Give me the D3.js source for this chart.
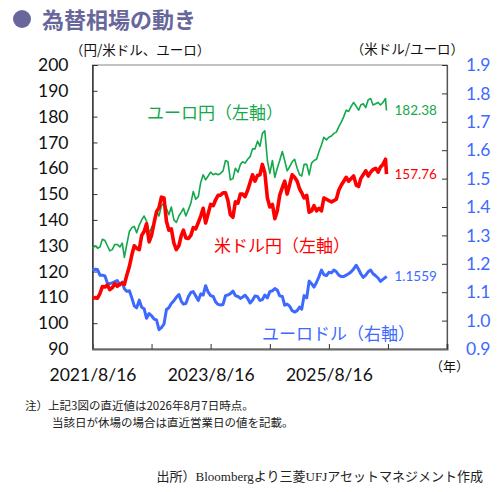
<!DOCTYPE html>
<html>
<head>
<meta charset="utf-8">
<script src="https://cdn.jsdelivr.net/npm/d3@7"></script>
<style>
  body { margin: 0; background: #fff; }
  svg { display: block; }
  .jp { font-family: "Noto Sans CJK JP", "Noto Sans", sans-serif; }
  .num { font-family: Lato, "Open Sans", sans-serif; }
</style>
</head>
<body>
<svg id="chart" width="501" height="492"></svg>
<script>
// semi-monthly readings, 2021/8/16 .. 2026/8/1, plus the last value on 2026/8/7
const usd_jpy = [
  109.6, 109.9, 109.7, 111.5, 114.2, 114.0, 114.8, 113.0, 113.7, 115.3, 114.3, 115.1,
  115.5, 115.0, 118.6, 122.0, 126.4, 130.0, 129.0, 128.5, 134.0, 135.5, 138.5, 131.5,
  134.0, 139.0, 143.2, 144.7, 148.8, 148.5, 139.5, 136.0, 136.5, 131.0, 128.5, 130.0,
  134.0, 136.0, 133.0, 132.8, 134.0, 137.0, 136.5, 139.0, 141.5, 144.5, 138.8, 142.5,
  146.0, 145.5, 147.8, 149.5, 149.6, 150.5, 150.5, 147.5, 142.0, 141.0, 147.0, 146.5,
  150.0, 150.0, 149.0, 151.5, 154.5, 157.5, 155.0, 157.2, 157.5, 161.5, 158.3, 148.5,
  145.0, 146.0, 140.5, 143.5, 149.5, 152.5, 155.0, 150.0, 153.5, 157.5, 156.5, 155.0,
  152.0, 150.5, 148.5, 149.5, 143.0, 143.5, 145.5, 143.5, 144.5, 143.5, 148.5, 148.0,
  147.5, 147.0, 147.5, 148.0, 151.5, 153.5, 155.0, 156.5, 155.0, 156.0, 157.0, 153.5,
  153.0, 156.0, 157.5, 159.0, 157.0, 158.5, 159.5, 160.0, 158.5, 160.5, 161.5, 163.5,
  157.76
];
const eur_jpy = [
  129.0, 130.0, 129.0, 129.5, 132.5, 132.0, 130.0, 128.0, 128.5, 130.5, 130.5, 129.5,
  131.0, 125.5, 130.5, 135.5, 137.0, 137.5, 135.0, 138.0, 140.0, 141.5, 139.5, 135.0,
  137.0, 139.0, 143.5, 141.5, 145.5, 146.5, 144.5, 142.0, 145.0, 140.0, 139.0, 141.5,
  143.0, 144.5, 141.5, 144.0, 146.5, 151.0, 148.0, 149.0, 154.5, 157.5, 155.5, 157.0,
  158.5, 157.5, 158.0, 157.5, 158.0, 159.0, 163.0, 162.5, 155.5, 156.0, 160.0, 158.5,
  161.5, 162.5, 162.0, 163.5, 164.5, 167.5, 167.5, 170.5, 168.5, 173.5, 174.5, 163.0,
  158.0, 163.0, 156.5, 160.0, 163.0, 166.5, 163.0, 159.0, 160.5, 162.5, 163.5, 160.0,
  157.5, 157.0, 161.5, 161.5, 157.5, 162.0, 163.0, 163.5, 166.5, 169.0, 172.0, 171.0,
  172.0, 172.5, 173.5, 174.0, 176.0, 178.0, 180.0, 182.5, 182.0, 184.0, 185.5, 184.0,
  182.5, 184.5, 185.0, 183.5, 186.5, 187.0, 184.5, 185.0, 185.5, 184.5, 185.5, 187.0,
  182.38
];
const eur_usd = [
  1.177, 1.181, 1.180, 1.160, 1.160, 1.157, 1.132, 1.130, 1.133, 1.137, 1.141, 1.125,
  1.136, 1.112, 1.103, 1.105, 1.080, 1.052, 1.045, 1.072, 1.047, 1.042, 1.008, 1.025,
  1.017, 1.005, 1.002, 0.968, 0.975, 0.988, 1.039, 1.045, 1.060, 1.070, 1.082, 1.092,
  1.068, 1.058, 1.060, 1.085, 1.099, 1.102, 1.087, 1.071, 1.094, 1.090, 1.123, 1.100,
  1.088, 1.085, 1.066, 1.057, 1.055, 1.057, 1.088, 1.090, 1.095, 1.104, 1.088, 1.085,
  1.078, 1.083, 1.089, 1.078, 1.062, 1.072, 1.087, 1.085, 1.071, 1.074, 1.090, 1.080,
  1.102, 1.105, 1.113, 1.107, 1.087, 1.085, 1.054, 1.058, 1.051, 1.035, 1.030, 1.035,
  1.048, 1.040, 1.088, 1.080, 1.139, 1.130, 1.118, 1.135, 1.155, 1.178, 1.162, 1.158,
  1.170, 1.168, 1.178, 1.172, 1.160, 1.155, 1.155, 1.160, 1.165, 1.172, 1.182, 1.195,
  1.180, 1.165, 1.152, 1.160, 1.172, 1.178, 1.165, 1.158, 1.150, 1.138, 1.145, 1.152,
  1.1559
];
const left_ticks = [90, 100, 110, 120, 130, 140, 150, 160, 170, 180, 190, 200];
const right_ticks = [0.9, 1.0, 1.1, 1.2, 1.3, 1.4, 1.5, 1.6, 1.7, 1.8, 1.9];
const year_ticks = ['2021-08-16', '2022-08-16', '2023-08-16', '2024-08-16', '2025-08-16', '2026-08-16', '2027-08-16'];
const labelled_years = ['2021-08-16', '2023-08-16', '2025-08-16'];

const parse = d3.timeParse('%Y-%m-%d');
const dates = [];
for (let i = 0; i < 120; i++) {
  dates.push(new Date(2021, 7 + Math.floor(i / 2) + (i % 2), i % 2 ? 1 : 16));
}
dates.push(new Date(2026, 7, 7));

const svg = d3.select('#chart');
const plotLeft = 92.5, plotRight = 447, plotTop = 65, plotBottom = 349;

const xScale = d3.scaleTime().domain([parse(year_ticks[0]), parse(year_ticks[6])]).range([plotLeft, plotRight]);
const yLeft = d3.scaleLinear().domain([90, 200]).range([plotBottom, plotTop]);
const yRight = d3.scaleLinear().domain([0.9, 1.9]).range([plotBottom, plotTop]);

const green = '#12a84b', red = '#ff0000', blue = '#3d69ff';

// title
svg.append('circle').attr('cx', 22).attr('cy', 19).attr('r', 9).attr('fill', '#67679b');
svg.append('text').attr('class', 'jp').attr('x', 42).attr('y', 28)
  .attr('font-size', 22).attr('font-weight', 'bold').attr('fill', '#67679b').text('為替相場の動き');

// units
svg.append('text').attr('class', 'jp').attr('x', 70).attr('y', 55).attr('font-size', 13.5)
  .attr('fill', '#111').text('（円/米ドル、ユーロ）');
svg.append('text').attr('class', 'jp').attr('x', 464).attr('y', 54).attr('font-size', 13.5)
  .attr('text-anchor', 'end').attr('fill', '#111').text('（米ドル/ユーロ）');

// frame
svg.append('rect').attr('x', plotLeft).attr('y', plotTop).attr('width', plotRight - plotLeft)
  .attr('height', plotBottom - plotTop).attr('fill', 'none').attr('stroke', '#888').attr('stroke-width', 1);

const gL = svg.append('g').attr('transform', 'translate(' + plotLeft + ',0)')
  .call(d3.axisLeft(yLeft).tickValues(left_ticks).tickSize(-5).tickPadding(24).tickFormat(d3.format('d')));
const gR = svg.append('g').attr('transform', 'translate(' + plotRight + ',0)')
  .call(d3.axisRight(yRight).tickValues(right_ticks).tickSize(-5).tickPadding(19).tickFormat(d3.format('.1f')));
const gB = svg.append('g').attr('transform', 'translate(0,' + plotBottom + ')')
  .call(d3.axisBottom(xScale).tickValues(year_ticks.map(parse)).tickSize(-5).tickPadding(20)
    .tickFormat(function(d) {
      const s = d3.timeFormat('%Y-%m-%d')(d);
      return labelled_years.indexOf(s) >= 0 ? d3.timeFormat('%Y/%-m/%-d')(d) : '';
    }));

[gL, gR, gB].forEach(function(g) {
  g.selectAll('text').attr('class', 'num').attr('font-size', 17.5);
  g.selectAll('.tick line').attr('stroke', '#333');
});
gL.select('.domain').attr('stroke', '#111').attr('stroke-width', 1.2);
gR.select('.domain').attr('stroke', '#555').attr('stroke-width', 1.2);
gB.select('.domain').attr('stroke', '#666').attr('stroke-width', 2);
gL.selectAll('text').attr('fill', '#111');
gB.selectAll('text').attr('fill', '#111');
gR.selectAll('text').attr('fill', blue);

svg.append('text').attr('class', 'jp').attr('x', 430).attr('y', 371).attr('font-size', 13)
  .attr('fill', '#111').text('（年）');

// lines
const series = [
  { values: eur_jpy, scale: yLeft, color: green, width: 1.6 },
  { values: eur_usd, scale: yRight, color: blue, width: 3 },
  { values: usd_jpy, scale: yLeft, color: red, width: 3.6 }
];
series.forEach(function(s) {
  const line = d3.line().x(function(d, i) { return xScale(dates[i]); })
    .y(function(d) { return s.scale(d); });
  svg.append('path').datum(s.values).attr('d', line).attr('fill', 'none')
    .attr('stroke', s.color).attr('stroke-width', s.width).attr('stroke-linejoin', 'round');
});

// series labels
svg.append('text').attr('class', 'jp').attr('x', 147).attr('y', 119).attr('font-size', 17)
  .attr('fill', green).text('ユーロ円（左軸）');
svg.append('text').attr('class', 'jp').attr('x', 214).attr('y', 252).attr('font-size', 17)
  .attr('fill', red).text('米ドル円（左軸）');
svg.append('text').attr('class', 'jp').attr('x', 262).attr('y', 340).attr('font-size', 17)
  .attr('fill', blue).text('ユーロドル（右軸）');

// last values
const lastX = xScale(dates[dates.length - 1]) + 8;
svg.append('text').attr('class', 'num').attr('x', lastX).attr('y', yLeft(eur_jpy[eur_jpy.length - 1]) + 5)
  .attr('font-size', 13.5).attr('fill', green).text(d3.format('.2f')(eur_jpy[eur_jpy.length - 1]));
svg.append('text').attr('class', 'num').attr('x', lastX).attr('y', yLeft(usd_jpy[usd_jpy.length - 1]) + 5)
  .attr('font-size', 13.5).attr('fill', red).text(d3.format('.2f')(usd_jpy[usd_jpy.length - 1]));
svg.append('text').attr('class', 'num').attr('x', lastX).attr('y', yRight(eur_usd[eur_usd.length - 1]) + 5)
  .attr('font-size', 13.5).attr('fill', blue).text(d3.format('.4f')(eur_usd[eur_usd.length - 1]));

// notes
svg.append('text').attr('class', 'jp').attr('x', 25).attr('y', 410).attr('font-size', 11.5)
  .attr('fill', '#222').text('注）上記3図の直近値は2026年8月7日時点。');
svg.append('text').attr('class', 'jp').attr('x', 52).attr('y', 427).attr('font-size', 11.5)
  .attr('fill', '#222').text('当該日が休場の場合は直近営業日の値を記載。');
svg.append('text').attr('x', 483).attr('y', 481).attr('font-size', 13).attr('text-anchor', 'end')
  .attr('font-family', '"Liberation Serif", "Noto Sans CJK JP", serif')
  .attr('fill', '#222').text('出所）Bloombergより三菱UFJアセットマネジメント作成');
</script>
</body>
</html>
